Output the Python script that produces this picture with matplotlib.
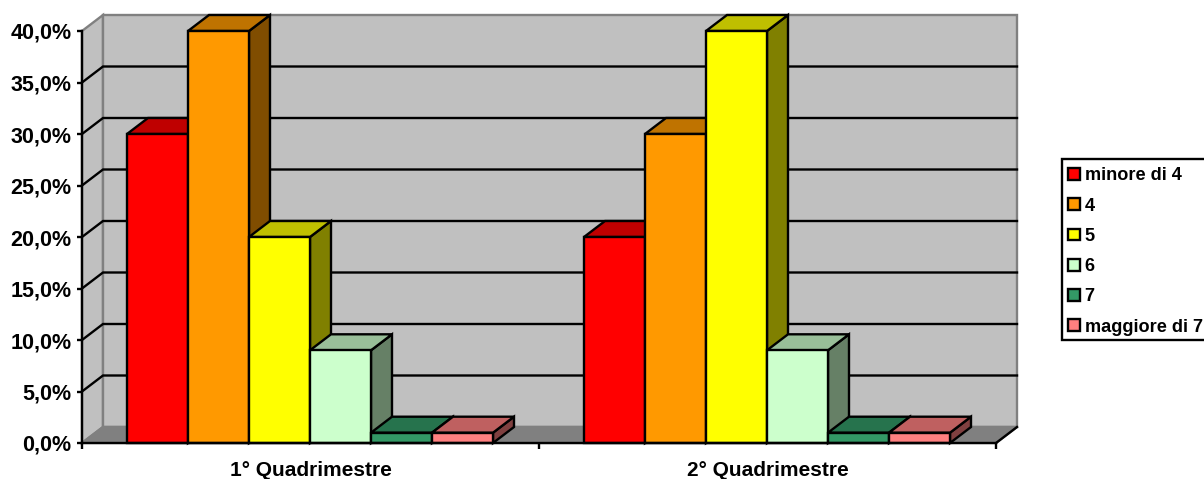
import matplotlib
matplotlib.use('Agg')
import matplotlib.pyplot as plt
import numpy as np
from matplotlib.patches import Patch, Polygon, Rectangle

plt.rcParams['font.family'] = ['Liberation Sans', 'DejaVu Sans']
plt.rcParams['font.weight'] = 'bold'

categories = ['1° Quadrimestre', '2° Quadrimestre']
series = ['minore di 4', '4', '5', '6', '7', 'maggiore di 7']
values = np.array([[30, 20], [40, 30], [20, 40], [9, 9], [1, 1], [1, 1]])
colors = ['#FF0000', '#FF9900', '#FFFF00', '#CCFFCC', '#339966', '#FF8080']
yticks = [0, 5, 10, 15, 20, 25, 30, 35, 40]

W, H = 1204, 479
fig = plt.figure(figsize=(W / 100, H / 100), dpi=100)
ax = fig.add_axes([82 / W, 1 - 443 / H, 914 / W, 412 / H])
ax.set_xlim(0, 2)
ax.set_ylim(0, 40)
ax.patch.set_visible(False)

# depth of the fake 3d box, in data units
dx = 21 / 457
dy = 16 / 10.3
bar_w = 61 / 457
start = 45 / 457
lw = 1.7


def poly(pts, fc, ec='black', z=2, lw=lw):
    ax.add_patch(Polygon(pts, closed=True, fc=fc, ec=ec, lw=lw, zorder=z,
                         clip_on=False, joinstyle='miter'))


def shade(c, f):
    return tuple(v * f for v in matplotlib.colors.to_rgb(c))


# walls and floor
poly([(0, 0), (dx, dy), (dx, 40 + dy), (0, 40)], '#C0C0C0', '#808080', 1)
poly([(dx, dy), (2 + dx, dy), (2 + dx, 40 + dy), (dx, 40 + dy)], '#C0C0C0', '#808080', 1)
poly([(0, 0), (dx, dy), (2 + dx, dy), (2, 0)], '#808080', '#808080', 1)

for t in yticks[1:-1]:
    ax.plot([0, dx, 2 + dx], [t, t + dy, t + dy], color='black', lw=lw, zorder=1.5,
            clip_on=False, solid_joinstyle='miter')
ax.plot([2, 2 + dx], [0, dy], color='black', lw=lw, zorder=1.5, clip_on=False)

# bars, left to right so each one covers the side of the previous
for g in range(len(categories)):
    for i, c in enumerate(colors):
        x0 = g + start + i * bar_w
        x1 = x0 + bar_w
        v = values[i][g]
        poly([(x1, 0), (x1 + dx, dy), (x1 + dx, v + dy), (x1, v)], shade(c, 0.5), z=2 + g + i * 0.1)
        poly([(x0, v), (x0 + dx, v + dy), (x1 + dx, v + dy), (x1, v)], shade(c, 0.75), z=2 + g + i * 0.1)
        poly([(x0, 0), (x1, 0), (x1, v), (x0, v)], c, z=2 + g + i * 0.1)

for s in ['top', 'right']:
    ax.spines[s].set_visible(False)
for s in ['left', 'bottom']:
    ax.spines[s].set_linewidth(lw)
    ax.spines[s].set_zorder(6)

ax.set_yticks(yticks)
ax.set_yticklabels(['%d,0%%' % t for t in yticks], fontsize=15.5, fontweight='bold')
ax.tick_params(axis='y', length=3.6, width=lw, pad=4)
ax.set_xticks([0, 1, 2])
ax.set_xticklabels([])
ax.set_xticks([0.5, 1.5], minor=True)
ax.set_xticklabels(categories, minor=True, fontsize=15, fontweight='bold')
ax.tick_params(axis='x', which='major', length=4.5, width=lw)
ax.tick_params(axis='x', which='minor', length=0, pad=13)

# legend frame runs off the right edge of the picture
fig.add_artist(Rectangle((1062 / W, 1 - 340 / H), 160 / W, 181 / H, transform=fig.transFigure,
                         fc='white', ec='black', lw=lw))
handles = [Patch(fc=c, ec='black', lw=lw) for c in colors]
fig.legend(handles, series, loc='upper left', bbox_to_anchor=(1062 / W, 1 - 161 / H),
           borderaxespad=0, frameon=False,
           prop={'size': 13.1, 'weight': 'bold'}, labelspacing=0.73, handlelength=0.62,
           handleheight=0.62, handletextpad=0.28, borderpad=0.35)

fig.savefig('out.png', dpi=100)
